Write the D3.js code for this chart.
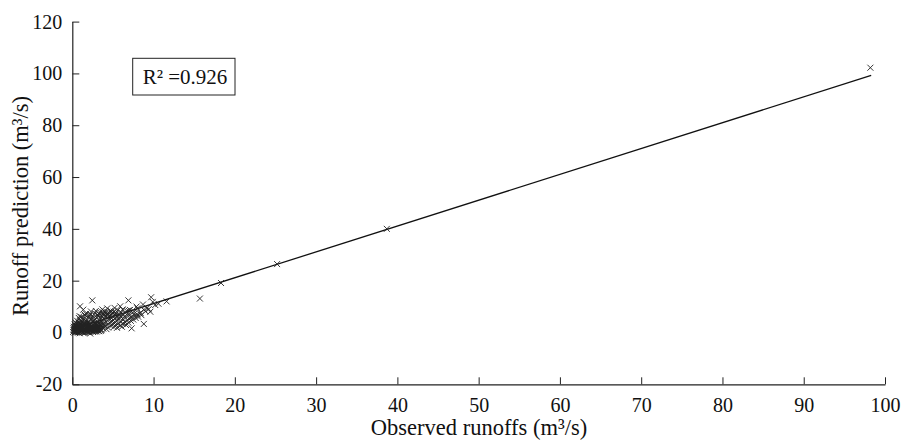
<!DOCTYPE html>
<html>
<head>
<meta charset="utf-8">
<script src="https://cdn.jsdelivr.net/npm/d3@7"></script>
<style>
  html, body { margin: 0; padding: 0; background: #fff; }
  svg { display: block; }
  text { font-family: "Liberation Serif", "Times New Roman", serif; fill: #111; }
</style>
</head>
<body>
<svg id="chart" width="902" height="441"></svg>
<script>
// ---- data ----
const xTicks = [0, 10, 20, 30, 40, 50, 60, 70, 80, 90, 100];
const yTicks = [-20, 0, 20, 40, 60, 80, 100, 120];
const xLabel = "Observed runoffs (m\u00B3/s)";
const yLabel = "Runoff prediction (m\u00B3/s)";
const r2Label = "R\u00B2 =0.926";
const fitLine = [[0, 1.2], [98.3, 99.2]];

// [observed, predicted]
const points = [
  [0.1,0.2],[0.15,1.0],[0.2,2.2],[0.25,0.5],[0.3,1.6],[0.3,3.1],[0.35,0.1],[0.4,2.6],[0.45,1.2],[0.5,0.4],
  [0.5,3.4],[0.55,1.9],[0.6,0.8],[0.65,2.9],[0.7,1.4],[0.7,0.0],[0.75,2.3],[0.8,3.8],[0.85,0.6],[0.9,1.7],
  [0.9,2.8],[0.95,1.0],[1.0,0.3],[1.0,2.0],[1.05,3.3],[1.1,1.3],[1.15,0.7],[1.2,2.5],[1.2,4.0],[1.25,1.8],
  [1.3,0.2],[1.35,3.0],[1.4,1.1],[1.45,2.2],[1.5,0.5],[1.5,3.6],[1.55,1.5],[1.6,2.7],[1.65,0.9],[1.7,1.9],
  [1.7,4.3],[1.75,0.3],[1.8,3.2],[1.85,1.2],[1.9,2.4],[1.95,0.7],[2.0,1.6],[2.0,3.7],[2.05,0.1],[2.1,2.9],
  [2.15,1.0],[2.2,2.0],[2.25,0.5],[2.3,3.4],[2.35,1.4],[2.4,2.6],[2.45,0.8],[2.5,1.8],[2.5,4.1],[2.55,0.2],
  [2.6,3.0],[2.65,1.2],[2.7,2.3],[2.75,0.6],[2.8,1.6],[2.85,3.5],[2.9,1.0],[2.95,2.7],[3.0,0.4],[3.05,1.9],
  [3.1,3.1],[3.15,1.3],[3.2,0.7],[3.3,2.4],[3.4,1.5],[3.5,3.3],[3.6,0.9],[3.7,2.0],[0.6,4.5],[0.4,3.9],
  [1.0,4.8],[1.4,5.2],[0.8,5.6],
  [0.2,0.9],[0.3,2.0],[0.4,0.3],[0.6,1.2],[0.6,2.4],[0.8,0.1],[0.8,1.9],[1.0,1.0],[1.1,2.9],[1.2,0.5],
  [1.3,1.6],[1.4,2.6],[1.5,1.2],[1.6,0.2],[1.6,3.4],[1.8,1.7],[1.9,0.4],[2.0,2.6],[2.1,1.3],[2.2,3.2],
  [2.3,0.8],[2.4,1.9],[2.6,1.5],[2.7,3.3],[2.8,0.3],[2.9,2.0],[3.0,1.4],[3.2,2.3],[3.3,0.5],[3.4,2.9],
  [3.5,1.2],[0.5,1.5],[1.1,3.7],[1.9,3.9],[2.6,4.5],[3.2,4.0],[0.3,0.0],[0.9,-0.3],[1.5,-0.2],[2.2,-0.4],
  [0.15,1.6],[0.35,2.9],[0.55,0.2],[0.7,3.2],[0.85,1.3],[1.0,2.5],[1.15,1.7],[1.25,0.0],[1.35,2.1],[1.45,3.3],
  [1.6,1.0],[1.7,2.4],[1.8,0.6],[1.95,3.0],[2.05,1.9],[2.2,1.1],[2.35,2.3],[2.5,0.4],[2.6,2.0],[2.75,1.0],
  [2.9,3.0],[3.05,0.9],[3.2,1.8],[3.35,3.5],[3.5,0.6],[3.6,2.6],[3.8,1.5],[3.9,2.8],[0.45,2.2],[1.05,0.6],
  [1.1,6.0],[1.3,5.0],[1.6,6.6],[1.8,4.9],[2.0,5.9],[2.2,7.1],[2.3,5.3],[2.5,6.4],[2.7,4.8],[2.8,7.4],
  [3.0,5.8],[3.1,6.9],[3.3,4.6],[3.4,7.8],[3.5,5.6],[3.6,6.6],[3.8,7.3],[3.9,5.2],[4.0,8.1],[4.1,6.3],
  [4.2,7.0],[4.4,5.8],[4.5,7.7],[4.6,6.5],[4.7,8.4],[4.8,5.5],[4.9,7.2],[5.0,6.2],[5.1,8.0],[5.3,6.8],
  [5.4,7.5],[5.5,5.9],[5.6,8.6],[5.8,7.0],[5.9,6.3],[6.0,7.8],[6.2,8.9],[6.3,6.8],[6.5,7.6],[6.7,8.3],
  [6.9,7.1],[7.1,8.7],[2.9,8.3],[3.7,8.9],[4.3,9.3],[5.2,9.5],[5.9,10.1],[1.7,7.2],[2.3,8.1],[1.35,8.8],
  [0.95,10.1],[2.46,12.4],[1.5,6.9],[0.9,6.3],
  [2.6,5.6],[3.2,6.2],[3.9,6.8],[4.4,7.3],[4.1,7.6],[3.7,7.9],[4.8,8.0],[5.0,7.6],[3.3,7.2],[2.1,6.5],
  [3.8,3.4],[4.0,2.5],[4.1,4.1],[4.3,3.0],[4.4,1.9],[4.6,3.7],[4.7,2.6],[4.9,4.4],[5.0,3.2],[5.1,2.1],
  [5.3,3.9],[5.4,2.8],[5.6,4.7],[5.7,3.5],[5.9,2.6],[6.0,4.2],[6.2,3.3],[6.3,5.1],[6.5,4.0],[6.6,2.9],
  [6.8,4.8],[6.9,3.8],[7.1,5.5],[7.2,4.5],[7.4,6.0],[7.5,5.0],[7.7,6.5],[7.8,5.6],[8.0,7.0],[8.1,6.1],
  [8.3,7.4],[8.5,6.7],[4.5,5.0],[5.2,5.4],[5.8,5.7],[6.4,6.1],[7.0,6.6],[7.6,7.2],[3.6,4.5],[4.2,1.3],
  [5.5,1.8],[6.1,2.2],
  [6.9,12.4],[9.7,13.6],[9.9,11.8],[11.6,12.0],[8.8,8.8],[7.3,1.6],[8.8,3.3],[6.9,8.5],[8.4,7.6],[8.7,10.8],
  [9.6,8.0],[9.2,9.4],[9.0,8.2],[10.2,10.6],[8.0,9.3],[7.6,8.1],[10.6,11.1],[9.4,9.0],[7.9,10.0],
  [15.7,13.1],[18.3,19.1],[25.2,26.4],[38.7,40.0],[98.2,102.2]
];

// ---- layout ----
const svg = d3.select("#chart");
const x = d3.scaleLinear().domain([0, 100]).range([72.3, 885]);
const y = d3.scaleLinear().domain([-20, 120]).range([384.3, 21.6]);
const fmt = d => String(d);

// axes
const gx = svg.append("g").attr("transform", `translate(0,${y(-20)})`)
  .call(d3.axisBottom(x).tickValues(xTicks).tickSizeInner(-7).tickSizeOuter(0).tickPadding(14).tickFormat(fmt));
const gy = svg.append("g").attr("transform", `translate(${x(0)},0)`)
  .call(d3.axisLeft(y).tickValues(yTicks).tickSizeInner(-7).tickSizeOuter(0).tickPadding(10).tickFormat(fmt));
[gx, gy].forEach(g => {
  g.selectAll("path.domain").attr("stroke", "#222").attr("stroke-width", 1.2);
  g.selectAll(".tick line").attr("stroke", "#222").attr("stroke-width", 1);
  g.selectAll(".tick text").style("font-family", '"Liberation Serif", serif').style("font-size", "20px").attr("fill", "#111");
});

// fit line
svg.append("path")
  .attr("d", d3.line().x(d => x(d[0])).y(d => y(d[1]))(fitLine))
  .attr("stroke", "#111").attr("stroke-width", 1.3).attr("fill", "none");

// markers (x crosses)
const s = 3;
svg.append("g").selectAll("path").data(points).join("path")
  .attr("d", d => {
    const px = x(d[0]), py = y(d[1]);
    return `M${px - s},${py - s}L${px + s},${py + s}M${px - s},${py + s}L${px + s},${py - s}`;
  })
  .attr("stroke", "#222").attr("stroke-width", 0.9).attr("fill", "none");

// R2 box
svg.append("rect").attr("x", 132.7).attr("y", 58.3).attr("width", 102.3).attr("height", 36.7)
  .attr("fill", "#fff").attr("stroke", "#222").attr("stroke-width", 1);
svg.append("text").attr("x", 185).attr("y", 84).attr("text-anchor", "middle")
  .style("font-size", "21px").text(r2Label);

// axis titles
svg.append("text").attr("x", 479).attr("y", 435).attr("text-anchor", "middle")
  .style("font-size", "22.5px").text(xLabel);
svg.append("text").attr("transform", `translate(28,206) rotate(-90)`).attr("text-anchor", "middle")
  .style("font-size", "22.5px").text(yLabel);
</script>
</body>
</html>
